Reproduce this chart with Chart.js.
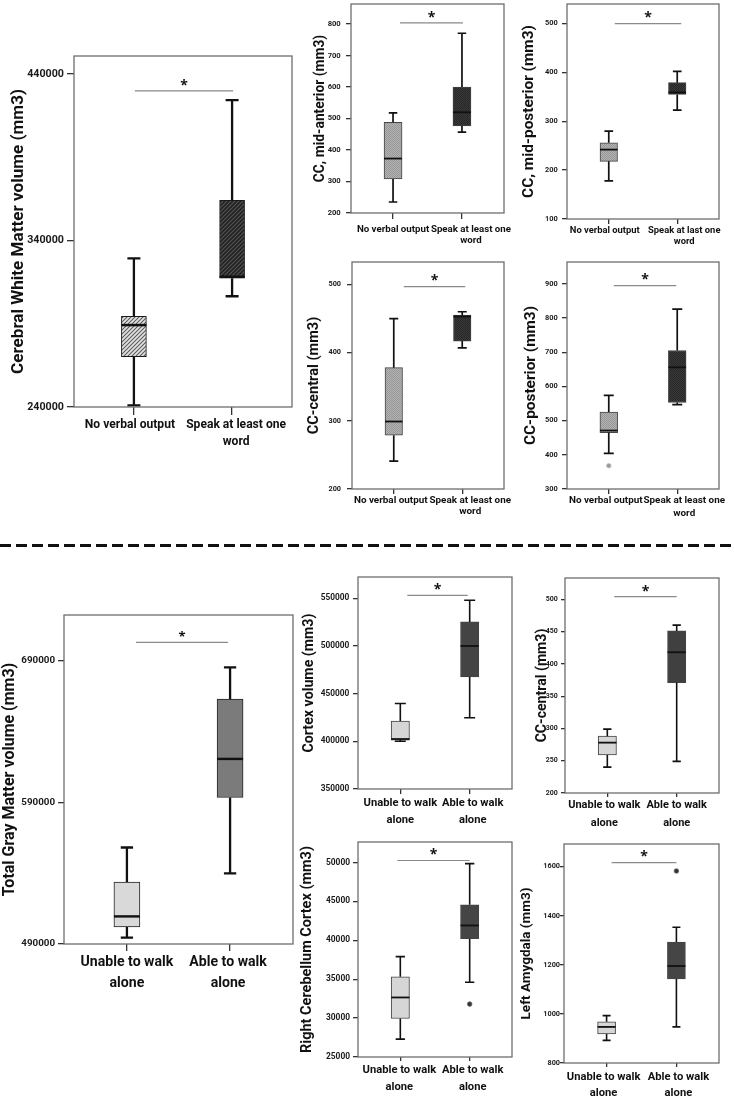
<!DOCTYPE html>
<html><head><meta charset="utf-8">
<script src="https://cdn.jsdelivr.net/npm/chart.js@4.4.1/dist/chart.umd.min.js"></script>
<style>
html,body{margin:0;padding:0;background:#fff;}
body{width:734px;height:1099px;position:relative;overflow:hidden;}
canvas{position:absolute;}
#sep{position:absolute;left:0;top:544px;width:734px;height:3px;background:repeating-linear-gradient(90deg,#111 0,#111 11px,transparent 11px,transparent 16px);}
</style></head><body>
<div id="sep"></div>
<script>
// ---------------- DATA ----------------
const verbalLabels = ['No verbal output', ['Speak at least one', 'word']];
const verbalLabelsMidPost = ['No verbal output', ['Speak at last one', 'word']];
const walkLabels = [['Unable to walk', 'alone'], ['Able to walk', 'alone']];

// box values: [lower whisker, Q1, median, Q3, upper whisker]
const wmNoVerbal = [241000, 270300, 289200, 294400, 329200];
const wmSpeak = [306500, 317300, 318200, 364100, 424300];
const wmTicks = [240000, 340000, 440000];
const wmRange = [240000, 450800];
const wmSig = 429800;

const ccMidAntNoVerbal = [235, 308, 373, 488, 518];
const ccMidAntSpeak = [457, 477, 520, 600, 771];
const ccMidAntTicks = [200, 300, 400, 500, 600, 700, 800];
const ccMidAntRange = [200, 864];
const ccMidAntSig = 804;

const ccMidPostNoVerbal = [178, 218, 242, 256, 280];
const ccMidPostSpeak = [323, 355, 359, 379, 402];
const ccMidPostTicks = [100, 200, 300, 400, 500];
const ccMidPostRange = [100, 540];
const ccMidPostSig = 500;

const ccCentralNoVerbal = [241, 279, 299, 378, 450];
const ccCentralSpeak = [407, 417, 453, 455, 460];
const ccCentralTicks = [200, 300, 400, 500];
const ccCentralRange = [200, 533];
const ccCentralSig = 497;

const ccPostNoVerbal = [404, 465, 471, 525, 574];
const ccPostNoVerbalOut = [368];
const ccPostSpeak = [547, 553, 656, 705, 826];
const ccPostTicks = [300, 400, 500, 600, 700, 800, 900];
const ccPostRange = [300, 964];
const ccPostSig = 895;

const gmUnable = [494500, 502000, 509500, 533800, 558200];
const gmAble = [539900, 593500, 620800, 663000, 685500];
const gmTicks = [490000, 590000, 690000];
const gmRange = [490000, 722500];
const gmSig = 703200;

const cortexUnable = [400000, 401300, 402400, 421200, 439600];
const cortexAble = [424700, 467600, 500000, 525200, 547900];
const cortexTicks = [350000, 400000, 450000, 500000, 550000];
const cortexRange = [350000, 572300];
const cortexSig = 553000;

const ccCentralWalkUnable = [240, 259, 278, 288, 299];
const ccCentralWalkAble = [249, 371, 418, 451, 460];
const ccCentralWalkTicks = [200, 250, 300, 350, 400, 450, 500];
const ccCentralWalkRange = [200, 533];
const ccCentralWalkSig = 504;

const rCerebUnable = [27300, 29950, 32650, 35300, 37900];
const rCerebAble = [34600, 40200, 41900, 44550, 49850];
const rCerebAbleOut = [31800];
const rCerebTicks = [25000, 30000, 35000, 40000, 45000, 50000];
const rCerebRange = [25000, 52630];
const rCerebSig = 50250;

const lAmygUnable = [892, 918, 947, 968, 993];
const lAmygAble = [947, 1142, 1195, 1293, 1353];
const lAmygAbleOut = [1582];
const lAmygTicks = [800, 1000, 1200, 1400, 1600];
const lAmygRange = [800, 1692];
const lAmygSig = 1616;

// ---------------- STYLE HELPERS ----------------
function hatch(bg, fg, size, lw) {
  const c = document.createElement('canvas'); c.width = c.height = size;
  const x = c.getContext('2d');
  x.fillStyle = bg; x.fillRect(0, 0, size, size);
  x.strokeStyle = fg; x.lineWidth = lw;
  x.beginPath();
  x.moveTo(0, size); x.lineTo(size, 0);
  x.moveTo(-1, 1); x.lineTo(1, -1);
  x.moveTo(size - 1, size + 1); x.lineTo(size + 1, size - 1);
  x.stroke();
  return x.createPattern(c, 'repeat');
}
function dots(bg, fg) {
  const c = document.createElement('canvas'); c.width = c.height = 2;
  const x = c.getContext('2d');
  x.fillStyle = bg; x.fillRect(0, 0, 2, 2);
  x.fillStyle = fg; x.fillRect(0, 0, 1, 1); x.fillRect(1, 1, 1, 1);
  return x.createPattern(c, 'repeat');
}
const FILLS = {
  hatchL: hatch('#e4e4e4', '#5a5a5a', 4, 1.1),
  hatchD: hatch('#222222', '#555555', 4, 1.1),
  dotL: dots('#b2b2b2', '#989898'),
  dotD: dots('#3a3a3a', '#262626')
};

const FONT = "Roboto, 'Open Sans', sans-serif";
const STARFONT = "'Open Sans', sans-serif";

const specs = [
  {id:'wm', frame:[74,56,292,407], titleX:18.3, title:'Cerebral White Matter volume (mm3)', titleSize:17.1,
   tickSize:10.7, yTickLen:7, yLabRight:64, xlabSize:12.1, xlabLH:17, xLine1:425, xTickLen:8, labOff:[-4,4],
   labels:verbalLabels, boxes:[wmNoVerbal, wmSpeak], outliers:[[],[]], range:wmRange, ticks:wmTicks, sig:wmSig,
   sigOff:[1,1], barW:25, capW:13, whiskW:2.3, medW:2.5, fills:[FILLS.hatchL, FILLS.hatchD], border:'#1a1a1a', starSize:14},
  {id:'ma', frame:[351,4,504,213], titleX:320, title:'CC, mid-anterior (mm3)', titleSize:13.8,
   tickSize:7.6, yTickLen:5, yLabRight:340.7, xlabSize:9.7, xlabLH:11, xLine1:230, xTickLen:6, labOff:[0,9],
   labels:verbalLabels, boxes:[ccMidAntNoVerbal, ccMidAntSpeak], outliers:[[],[]], range:ccMidAntRange, ticks:ccMidAntTicks, sig:ccMidAntSig,
   sigOff:[7,1], barW:18, capW:8.5, whiskW:1.7, medW:1.8, fills:[FILLS.dotL, FILLS.dotD], border:'#444', starSize:14},
  {id:'mp', frame:[567,4,719,219], titleX:529, title:'CC, mid-posterior (mm3)', titleSize:15.4,
   tickSize:7.4, yTickLen:5, yLabRight:557.7, xlabSize:9.4, xlabLH:10.6, xLine1:230.7, xTickLen:5, labOff:[-4,7],
   labels:verbalLabelsMidPost, boxes:[ccMidPostNoVerbal, ccMidPostSpeak], outliers:[[],[]], range:ccMidPostRange, ticks:ccMidPostTicks, sig:ccMidPostSig,
   sigOff:[6,4], barW:17.5, capW:8.7, whiskW:1.7, medW:1.8, fills:[FILLS.dotL, FILLS.dotD], border:'#444', starSize:14},
  {id:'cc', frame:[352,262,504,489], titleX:315, title:'CC-central (mm3)', titleSize:14.6,
   tickSize:7.3, yTickLen:5, yLabRight:341, xlabSize:9.9, xlabLH:11, xLine1:500.7, xTickLen:5, labOff:[-3,8],
   labels:verbalLabels, boxes:[ccCentralNoVerbal, ccCentralSpeak], outliers:[[],[]], range:ccCentralRange, ticks:ccCentralTicks, sig:ccCentralSig,
   sigOff:[10,3], barW:17.5, capW:9, whiskW:1.7, medW:1.8, fills:[FILLS.dotL, FILLS.dotD], border:'#444', starSize:14},
  {id:'cp', frame:[567,262,719,489], titleX:531, title:'CC-posterior (mm3)', titleSize:15.4,
   tickSize:7.4, yTickLen:5, yLabRight:557.7, xlabSize:9.9, xlabLH:12.6, xLine1:500.7, xTickLen:5, labOff:[-3,7],
   labels:verbalLabels, boxes:[ccPostNoVerbal, ccPostSpeak], outliers:[ccPostNoVerbalOut,[]], range:ccPostRange, ticks:ccPostTicks, sig:ccPostSig,
   sigOff:[5,-1], barW:17.7, capW:10, whiskW:1.7, medW:1.8, fills:[FILLS.dotL, FILLS.dotD], border:'#444', starSize:14,
   outFill:'#999', outStroke:'#c4c4c4'},
  {id:'gm', frame:[64,615,293,944], titleX:9.2, title:'Total Gray Matter volume (mm3)', titleSize:16,
   tickSize:9.8, yTickLen:6, yLabRight:55, xlabSize:14.1, xlabLH:21, xLine1:962.3, xTickLen:7, labOff:[0,-2],
   labels:walkLabels, boxes:[gmUnable, gmAble], outliers:[[],[]], range:gmRange, ticks:gmTicks, sig:gmSig,
   sigOff:[9,-2], barW:26, capW:12.3, whiskW:2.3, medW:2.4, fills:['#d9d9d9', '#7b7b7b'], border:'#222', starSize:13},
  {id:'cx', frame:[358,577,512,789], titleX:310, title:'Cortex volume (mm3)', titleSize:14.2,
   tickSize:8.3, yTickLen:5, yLabRight:349.3, xlabSize:11.2, xlabLH:17.3, xLine1:803.3, xTickLen:5, labOff:[0,3],
   labels:walkLabels, boxes:[cortexUnable, cortexAble], outliers:[[],[]], range:cortexRange, ticks:cortexTicks, sig:cortexSig,
   sigOff:[7,-2], barW:18.3, capW:11, whiskW:1.6, medW:1.8, fills:['#d6d6d6', '#444444'], border:'#444', starSize:14},
  {id:'cw', frame:[565,578,719,793], titleX:542, title:'CC-central (mm3)', titleSize:14.1,
   tickSize:7, yTickLen:4, yLabRight:557.7, xlabSize:11, xlabLH:17.3, xLine1:805, xTickLen:4, labOff:[-3,0],
   labels:walkLabels, boxes:[ccCentralWalkUnable, ccCentralWalkAble], outliers:[[],[]], range:ccCentralWalkRange, ticks:ccCentralWalkTicks, sig:ccCentralWalkSig,
   sigOff:[7,0], barW:18.3, capW:8.3, whiskW:1.6, medW:1.8, fills:['#d6d6d6', '#404040'], border:'#444', starSize:14},
  {id:'rc', frame:[358,842,512,1057], titleX:307.5, title:'Right Cerebellum Cortex (mm3)', titleSize:14.5,
   tickSize:8.4, yTickLen:5, yLabRight:350, xlabSize:11.2, xlabLH:17.4, xLine1:1069.3, xTickLen:4, labOff:[-1,3],
   labels:walkLabels, boxes:[rCerebUnable, rCerebAble], outliers:[[], rCerebAbleOut], range:rCerebRange, ticks:rCerebTicks, sig:rCerebSig,
   sigOff:[-3,0], barW:18.3, capW:9.3, whiskW:1.6, medW:1.8, fills:['#d6d6d6', '#454545'], border:'#444', starSize:14,
   outFill:'#333', outStroke:'#666'},
  {id:'la', frame:[564,844,719,1063], titleX:527.5, title:'Left Amygdala (mm3)', titleSize:13.5,
   tickSize:7.3, yTickLen:4, yLabRight:560, xlabSize:11.2, xlabLH:16.6, xLine1:1076.7, xTickLen:4, labOff:[-3,2],
   labels:walkLabels, boxes:[lAmygUnable, lAmygAble], outliers:[[], lAmygAbleOut], range:lAmygRange, ticks:lAmygTicks, sig:lAmygSig,
   sigOff:[5,0], barW:18, capW:8, whiskW:1.6, medW:1.8, fills:['#d6d6d6', '#454545'], border:'#444', starSize:14,
   outFill:'#333', outStroke:'#666'}
];

function boxPlugin(sp) {
  return {
    id: 'box_' + sp.id,
    afterDatasetsDraw(chart) {
      const ctx = chart.ctx, xs = chart.scales.x, ys = chart.scales.y;
      ctx.save();
      sp.boxes.forEach((b, i) => {
        const cx = xs.getPixelForValue(i);
        const hw = sp.barW / 2, hc = sp.capW / 2;
        const p = b.map(v => ys.getPixelForValue(v));
        ctx.strokeStyle = '#111';
        ctx.lineWidth = sp.whiskW;
        ctx.beginPath();
        ctx.moveTo(cx, p[3]); ctx.lineTo(cx, p[4]);
        ctx.moveTo(cx, p[1]); ctx.lineTo(cx, p[0]);
        ctx.moveTo(cx - hc, p[4]); ctx.lineTo(cx + hc, p[4]);
        ctx.moveTo(cx - hc, p[0]); ctx.lineTo(cx + hc, p[0]);
        ctx.stroke();
        ctx.lineWidth = sp.medW;
        ctx.beginPath(); ctx.moveTo(cx - hw, p[2]); ctx.lineTo(cx + hw, p[2]); ctx.stroke();
        (sp.outliers[i] || []).forEach(v => {
          ctx.beginPath(); ctx.arc(cx, ys.getPixelForValue(v), 2.3, 0, Math.PI * 2);
          ctx.fillStyle = sp.outFill || '#333'; ctx.fill();
          ctx.lineWidth = 0.8; ctx.strokeStyle = sp.outStroke || '#666'; ctx.stroke();
        });
      });
      const sy = ys.getPixelForValue(sp.sig);
      const x0 = xs.getPixelForValue(0) + sp.sigOff[0], x1 = xs.getPixelForValue(1) + sp.sigOff[1];
      ctx.strokeStyle = '#8a8a8a'; ctx.lineWidth = 1.2;
      ctx.beginPath(); ctx.moveTo(x0, sy); ctx.lineTo(x1, sy); ctx.stroke();
      ctx.fillStyle = '#111';
      ctx.font = 'bold ' + sp.starSize + 'px ' + STARFONT;
      ctx.textAlign = 'center'; ctx.textBaseline = 'alphabetic';
      ctx.fillText('*', (x0 + x1) / 2, sy - 9.3 + sp.starSize * 0.58);
      const a = chart.chartArea;
      ctx.strokeStyle = '#6e6e6e'; ctx.lineWidth = 1.3;
      ctx.strokeRect(a.left, a.top, a.right - a.left, a.bottom - a.top);
      ctx.restore();
    }
  };
}

const XMIN = -0.61, XMAX = 1.61;

function build(sp) {
  const [l, t, r, b] = sp.frame;
  const padTop = 12, padRight = 28, xAxisH = 52;
  const cLeft = Math.round(sp.titleX - sp.titleSize * 1.2 / 2);
  const cTop = t - padTop;
  const yW = l - cLeft;
  const W = r + padRight - cLeft;
  const H = (b - t) + padTop + xAxisH;
  const cv = document.createElement('canvas');
  cv.width = W; cv.height = H;
  cv.style.left = cLeft + 'px'; cv.style.top = cTop + 'px';
  cv.style.width = W + 'px'; cv.style.height = H + 'px';
  document.body.appendChild(cv);
  const yPad = Math.max(0, l - sp.yTickLen - sp.yLabRight);
  const xPad = Math.max(0, sp.xLine1 - b - sp.xTickLen - sp.xlabLH / 2);
  new Chart(cv, {
    type: 'bar',
    data: {
      datasets: [{
        data: sp.boxes.map((bx, i) => ({x: i, y: [bx[1], bx[3]]})),
        backgroundColor: sp.fills,
        borderColor: sp.border,
        borderWidth: 1,
        borderSkipped: false,
        barThickness: sp.barW
      }]
    },
    options: {
      responsive: false,
      animation: false,
      events: [],
      layout: {padding: {top: padTop, right: padRight, left: 0, bottom: 0}},
      plugins: {legend: {display: false}, tooltip: {enabled: false}},
      scales: {
        x: {
          type: 'linear', position: 'bottom', weight: 0, min: XMIN, max: XMAX, bounds: 'data', offset: false,
          afterBuildTicks: s => { s.ticks = sp.labels.map((_, i) => ({value: i})); },
          afterFit: s => { s.height = sp.xTickLen; },
          grid: {drawOnChartArea: false, drawTicks: true, tickLength: sp.xTickLen, color: '#333', lineWidth: 1.3, offset: false},
          border: {display: false},
          ticks: {display: false}
        },
        xl: {
          type: 'linear', position: 'bottom', weight: 10, min: XMIN, max: XMAX, bounds: 'data', offset: false,
          afterBuildTicks: s => {
            const ppu = s.width / (XMAX - XMIN);
            s.ticks = sp.labels.map((_, i) => ({value: i + (ppu > 0 ? sp.labOff[i] / ppu : 0)}));
          },
          afterFit: s => { s.height = xAxisH - sp.xTickLen; },
          grid: {display: false, drawTicks: false, tickLength: 0},
          border: {display: false},
          ticks: {
            autoSkip: false, maxRotation: 0, minRotation: 0, padding: xPad,
            color: '#111',
            font: {family: FONT, weight: 'bold', size: sp.xlabSize, lineHeight: sp.xlabLH / sp.xlabSize},
            callback: (v, i) => sp.labels[i]
          }
        },
        y: {
          type: 'linear', min: sp.range[0], max: sp.range[1], bounds: 'data',
          afterBuildTicks: s => { s.ticks = sp.ticks.map(v => ({value: v})); },
          afterFit: s => { s.width = yW; },
          grid: {drawOnChartArea: false, drawTicks: true, tickLength: sp.yTickLen, color: '#333', lineWidth: 1.3},
          border: {display: false},
          title: {display: true, text: sp.title, color: '#111', padding: {top: 0, bottom: 0},
                  font: {family: FONT, weight: 'bold', size: sp.titleSize}},
          ticks: {
            autoSkip: false, padding: yPad, color: '#1a1a1a',
            font: {family: FONT, weight: 'bold', size: sp.tickSize},
            callback: v => String(v)
          }
        }
      }
    },
    plugins: [boxPlugin(sp)]
  });
}

function go() { specs.forEach(build); }
if (document.fonts && document.fonts.load) {
  Promise.all([
    document.fonts.load("bold 12px Roboto"),
    document.fonts.load("bold 12px 'Open Sans'")
  ]).then(go, go);
} else { go(); }
</script>
</body></html>
